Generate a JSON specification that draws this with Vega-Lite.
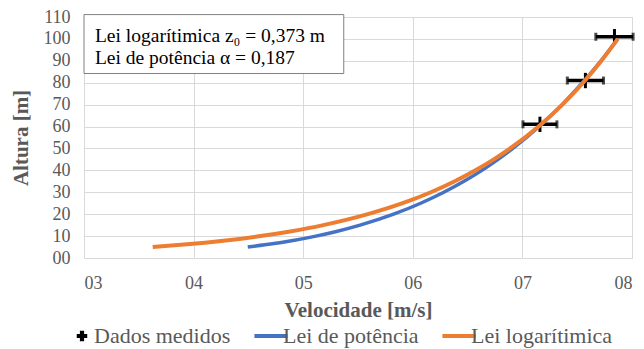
{
  "$schema": "https://vega.github.io/schema/vega-lite/v6.json",
  "width": 548,
  "height": 241,
  "autosize": {"type": "none"},
  "padding": {"left": 84, "top": 17, "right": 12, "bottom": 91},
  "background": "white",
  "config": {
    "view": {"stroke": null},
    "font": "Liberation Serif",
    "axis": {
      "labelFont": "Liberation Serif",
      "labelFontSize": 18,
      "labelColor": "#595959",
      "labelOverlap": false,
      "titleFont": "Liberation Serif",
      "titleFontSize": 21,
      "titleFontWeight": "bold",
      "titleColor": "#595959",
      "gridColor": "#d9d9d9",
      "gridWidth": 1,
      "domainColor": "#d9d9d9",
      "domainWidth": 1,
      "ticks": false,
      "tickSize": 0
    }
  },
  "datasets": {
    "curvas": [
      {"serie": "Lei de potência", "z": 5, "u": 4.494},
      {"serie": "Lei de potência", "z": 6, "u": 4.65},
      {"serie": "Lei de potência", "z": 7, "u": 4.786},
      {"serie": "Lei de potência", "z": 8, "u": 4.907},
      {"serie": "Lei de potência", "z": 10, "u": 5.116},
      {"serie": "Lei de potência", "z": 12, "u": 5.294},
      {"serie": "Lei de potência", "z": 15, "u": 5.519},
      {"serie": "Lei de potência", "z": 20, "u": 5.825},
      {"serie": "Lei de potência", "z": 25, "u": 6.072},
      {"serie": "Lei de potência", "z": 30, "u": 6.283},
      {"serie": "Lei de potência", "z": 35, "u": 6.467},
      {"serie": "Lei de potência", "z": 40, "u": 6.631},
      {"serie": "Lei de potência", "z": 45, "u": 6.778},
      {"serie": "Lei de potência", "z": 50, "u": 6.913},
      {"serie": "Lei de potência", "z": 60, "u": 7.153},
      {"serie": "Lei de potência", "z": 70, "u": 7.362},
      {"serie": "Lei de potência", "z": 80, "u": 7.548},
      {"serie": "Lei de potência", "z": 90, "u": 7.717},
      {"serie": "Lei de potência", "z": 100, "u": 7.87},
      {"serie": "Lei logarítimica", "z": 5, "u": 3.627},
      {"serie": "Lei logarítimica", "z": 6, "u": 3.885},
      {"serie": "Lei logarítimica", "z": 7, "u": 4.104},
      {"serie": "Lei logarítimica", "z": 8, "u": 4.293},
      {"serie": "Lei logarítimica", "z": 10, "u": 4.609},
      {"serie": "Lei logarítimica", "z": 12, "u": 4.867},
      {"serie": "Lei logarítimica", "z": 15, "u": 5.183},
      {"serie": "Lei logarítimica", "z": 20, "u": 5.59},
      {"serie": "Lei logarítimica", "z": 25, "u": 5.907},
      {"serie": "Lei logarítimica", "z": 30, "u": 6.165},
      {"serie": "Lei logarítimica", "z": 35, "u": 6.383},
      {"serie": "Lei logarítimica", "z": 40, "u": 6.572},
      {"serie": "Lei logarítimica", "z": 45, "u": 6.739},
      {"serie": "Lei logarítimica", "z": 50, "u": 6.888},
      {"serie": "Lei logarítimica", "z": 60, "u": 7.147},
      {"serie": "Lei logarítimica", "z": 70, "u": 7.365},
      {"serie": "Lei logarítimica", "z": 80, "u": 7.554},
      {"serie": "Lei logarítimica", "z": 90, "u": 7.721},
      {"serie": "Lei logarítimica", "z": 100, "u": 7.87}
    ],
    "medidos": [
      {"serie": "Dados medidos", "u": 7.16, "z": 61, "ulo": 7.005, "uhi": 7.315, "zlo": 57.5, "zhi": 64.5},
      {"serie": "Dados medidos", "u": 7.575, "z": 81, "ulo": 7.41, "uhi": 7.74, "zlo": 77.5, "zhi": 84.5},
      {"serie": "Dados medidos", "u": 7.84, "z": 101, "ulo": 7.67, "uhi": 8.01, "zlo": 97.5, "zhi": 104.5}
    ],
    "caixa": [{"x1": 3.0, "x2": 5.37, "y1": 84.2, "y2": 111.1}],
    "textos": [
      {"x": 3.1, "y": 101.5, "t": "Lei logarítimica z₀ = 0,373 m"},
      {"x": 3.1, "y": 91.5, "t": "Lei de potência α = 0,187"}
    ]
  },
  "encoding": {
    "x": {
      "type": "quantitative",
      "scale": {"domain": [3, 8], "nice": false, "zero": false},
      "axis": {"values": [3, 4, 5, 6, 7, 8], "tickCount": 20, "format": "02d", "title": "Velocidade [m/s]", "grid": true, "labelOverlap": false, "labelPadding": 16, "titlePadding": 7}
    },
    "y": {
      "type": "quantitative",
      "scale": {"domain": [0, 110], "nice": false, "zero": true},
      "axis": {"values": [0, 10, 20, 30, 40, 50, 60, 70, 80, 90, 100, 110], "tickCount": 30, "format": "02d", "title": "Altura [m]", "grid": true, "labelOverlap": false, "labelPadding": 14, "titlePadding": 12}
    }
  },
  "layer": [
    {
      "data": {"name": "medidos"},
      "mark": {"type": "rule", "strokeWidth": 3.5},
      "encoding": {
        "x": {"field": "ulo", "type": "quantitative"},
        "x2": {"field": "uhi"},
        "y": {"field": "z", "type": "quantitative"},
        "color": {
          "field": "serie", "type": "nominal",
          "scale": {"domain": ["Dados medidos", "Lei de potência", "Lei logarítimica"], "range": ["#000000", "#4472C4", "#ED7D31"]},
          "legend": {
            "title": null,
            "orient": "none",
            "direction": "horizontal",
            "legendX": -13,
            "legendY": 308,
            "labelFont": "Liberation Serif",
            "labelFontSize": 22,
            "labelColor": "#595959",
            "labelOffset": 1,
            "labelLimit": 300,
            "columnPadding": 15,
            "symbolSize": 1100,
            "encode": {
              "symbols": {
                "update": {
                  "shape": {"signal": "datum.value === 'Dados medidos' ? 'cross' : 'stroke'"},
                  "size": {"signal": "datum.value === 'Dados medidos' ? 110 : 1100"},
                  "fill": {"signal": "datum.value === 'Dados medidos' ? '#000000' : 'transparent'"},
                  "stroke": {"signal": "datum.value === 'Dados medidos' ? 'transparent' : (datum.value === 'Lei de potência' ? '#4472C4' : '#ED7D31')"},
                  "strokeWidth": {"signal": "datum.value === 'Dados medidos' ? 0 : 4"},
                  "opacity": {"value": 1}
                }
              }
            }
          }
        }
      }
    },
    {
      "data": {"name": "medidos"},
      "mark": {"type": "rule", "strokeWidth": 3, "color": "#000000"},
      "encoding": {
        "x": {"field": "u", "type": "quantitative"},
        "y": {"field": "zlo", "type": "quantitative"},
        "y2": {"field": "zhi"}
      }
    },
    {
      "data": {"name": "medidos"},
      "mark": {"type": "tick", "orient": "vertical", "size": 8, "thickness": 3, "color": "#000000"},
      "encoding": {
        "x": {"field": "ulo", "type": "quantitative"},
        "y": {"field": "z", "type": "quantitative"}
      }
    },
    {
      "data": {"name": "medidos"},
      "mark": {"type": "tick", "orient": "vertical", "size": 8, "thickness": 3, "color": "#000000"},
      "encoding": {
        "x": {"field": "uhi", "type": "quantitative"},
        "y": {"field": "z", "type": "quantitative"}
      }
    },
    {
      "data": {"name": "curvas"},
      "transform": [{"filter": "datum.serie === 'Lei de potência'"}],
      "mark": {"type": "line", "strokeWidth": 3.5, "interpolate": "monotone"},
      "encoding": {
        "x": {"field": "u", "type": "quantitative"},
        "y": {"field": "z", "type": "quantitative"},
        "order": {"field": "z", "type": "quantitative"},
        "color": {"field": "serie", "type": "nominal"}
      }
    },
    {
      "data": {"name": "curvas"},
      "transform": [{"filter": "datum.serie === 'Lei logarítimica'"}],
      "mark": {"type": "line", "strokeWidth": 4, "interpolate": "monotone"},
      "encoding": {
        "x": {"field": "u", "type": "quantitative"},
        "y": {"field": "z", "type": "quantitative"},
        "order": {"field": "z", "type": "quantitative"},
        "color": {"field": "serie", "type": "nominal"}
      }
    },
    {
      "data": {"name": "caixa"},
      "mark": {"type": "rect", "fill": "#ffffff", "stroke": "#808080", "strokeWidth": 1},
      "encoding": {
        "x": {"field": "x1", "type": "quantitative"},
        "x2": {"field": "x2"},
        "y": {"field": "y1", "type": "quantitative"},
        "y2": {"field": "y2"}
      }
    },
    {
      "data": {"name": "textos"},
      "mark": {"type": "text", "align": "left", "baseline": "middle", "font": "Liberation Serif", "fontSize": 19.5, "color": "#000000"},
      "encoding": {
        "x": {"field": "x", "type": "quantitative"},
        "y": {"field": "y", "type": "quantitative"},
        "text": {"field": "t"}
      }
    }
  ]
}
